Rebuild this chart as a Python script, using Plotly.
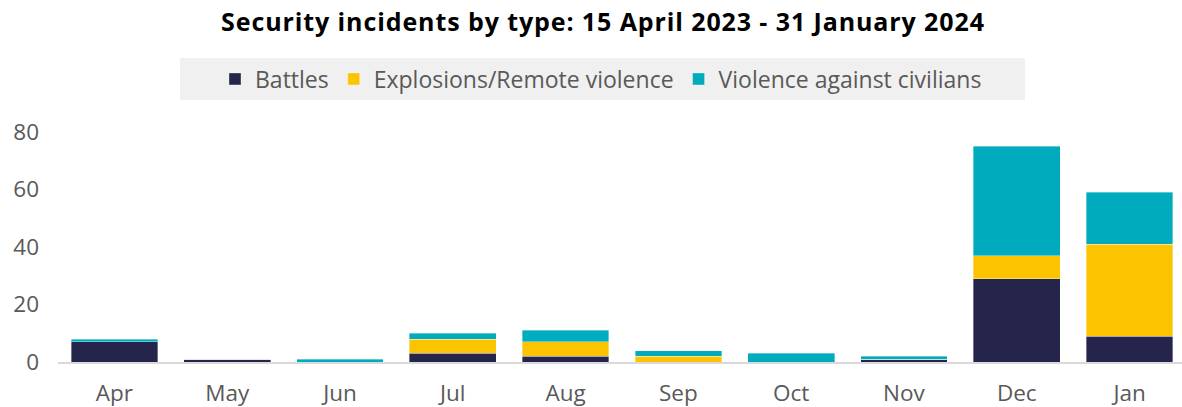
import plotly.graph_objects as go

months = ["Apr", "May", "Jun", "Jul", "Aug", "Sep", "Oct", "Nov", "Dec", "Jan"]
battles = [7, 1, 0, 3, 2, 0, 0, 1, 29, 9]
explosions = [0, 0, 0, 5, 5, 2, 0, 0, 8, 32]
violence = [1, 0, 1, 2, 4, 2, 3, 1, 38, 18]

series_names = ["Battles", "Explosions/Remote violence", "Violence against civilians"]
series_colors = ["#25254b", "#fcc300", "#00abbd"]
title_text = "Security incidents by type: 15 April 2023 - 31 January 2024"

W, H = 1182, 407
L, R, T, B = 58, 0, 132, 45
FONT = "Open Sans, sans-serif"

fig = go.Figure()
for name, vals, col in zip(series_names, [battles, explosions, violence], series_colors):
    fig.add_trace(go.Bar(
        x=months, y=vals, name=name,
        marker=dict(color=col, line=dict(width=0.6, color="rgba(255,255,255,0.6)")),
    ))

pw = W - L - R
ph = H - T - B

def px_x(x):
    return (x - L) / pw

def px_y(y):
    return (H - B - y) / ph

fig.update_layout(
    width=W, height=H,
    margin=dict(l=L, r=R, t=T, b=B),
    barmode="stack",
    bargap=0.231,
    plot_bgcolor="white",
    paper_bgcolor="white",
    font=dict(family=FONT, color="#595959", size=22),
    title=dict(
        text="<b><span style='letter-spacing:0.9px'>" + title_text + "</span></b>",
        font=dict(family=FONT, size=25, color="#000000"),
        x=603 / W, xanchor="center", xref="container",
        y=1 - 22 / H, yanchor="middle", yref="container",
    ),
    showlegend=True,
    legend=dict(
        orientation="h",
        x=px_x(601), xanchor="center",
        y=px_y(79), yanchor="middle",
        bgcolor="rgba(0,0,0,0)",
        font=dict(family=FONT, size=23, color="#595959"),
        itemwidth=30,
        traceorder="normal",
    ),
    shapes=[dict(
        type="rect", xref="paper", yref="paper", layer="below",
        x0=px_x(180), x1=px_x(1025), y0=px_y(100), y1=px_y(58),
        fillcolor="#f0f0f0", line=dict(width=0),
    )],
    xaxis=dict(
        range=[-0.5, 9.465],
        showgrid=False,
        showline=True, linecolor="#d9d9d9", linewidth=2,
        ticks="", ticklabelstandoff=10,
        tickfont=dict(family=FONT, size=22.5, color="#595959"),
        zeroline=False,
    ),
    yaxis=dict(
        range=[0, 80],
        tickvals=[0, 20, 40, 60, 80],
        showgrid=False, zeroline=False, showline=False,
        ticks="", ticklabelstandoff=18,
        tickfont=dict(family=FONT, size=22.5, color="#595959"),
    ),
)

fig.write_html("out.html")
